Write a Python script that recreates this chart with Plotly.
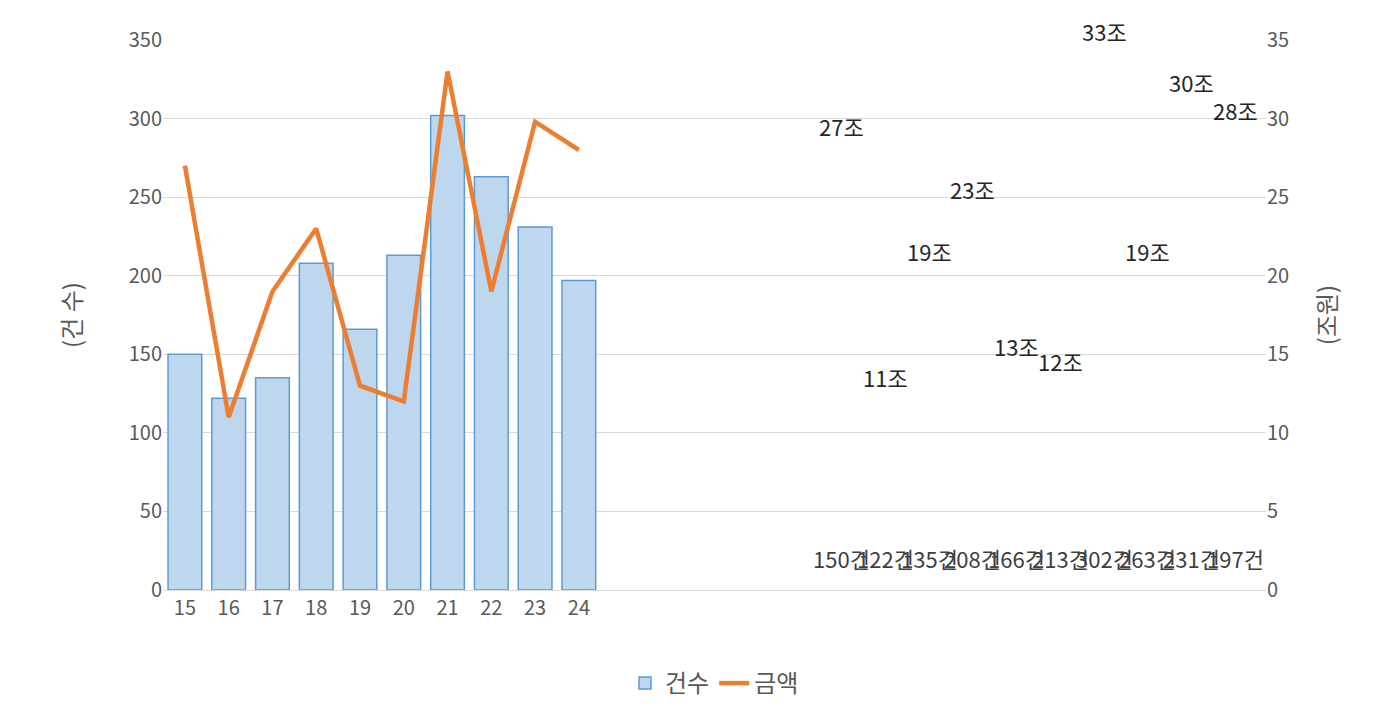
import plotly.graph_objects as go

years = ["15","16","17","18","19","20","21","22","23","24"]
counts = [150,122,135,208,166,213,302,263,231,197]
amounts = [27,11,19,23,13,12,33,19,29.8,28]
amount_labels = ["27조","11조","19조","23조","13조","12조","33조","19조","30조","28조"]
count_labels = [f"{c}건" for c in counts]

F = "Noto Sans CJK KR"
fig = go.Figure()
fig.add_bar(x=years, y=counts, name="건수", marker=dict(color="#BDD7EE", line=dict(color="#5B9BD5", width=1.5)), width=0.77)
fig.add_scatter(x=years, y=amounts, name="금액", yaxis="y2", mode="lines", line=dict(color="#ED7D31", width=4.5))

ann = []
for x, c, t in zip(years, counts, count_labels):
    ann.append(dict(x=x, y=0, xref="x", yref="y", text=t, showarrow=False, yshift=32, font=dict(size=22, color="#404040", family=F)))
for x, a, t in zip(years, amounts, amount_labels):
    ann.append(dict(x=x, y=a, xref="x", yref="y2", text=t, showarrow=False, yshift=40, font=dict(size=22, color="#262626", family=F)))

fig.update_layout(
    width=1400, height=713, paper_bgcolor="white", plot_bgcolor="white",
    margin=dict(l=155, r=142, t=32, b=131),
    font=dict(family=F, size=20, color="#595959"),
    bargap=0.23,
    xaxis=dict(type="category", showgrid=False, linecolor="#D9D9D9", showline=True, ticks="", tickfont=dict(size=20)),
    yaxis=dict(range=[0,350], dtick=50, gridcolor="#D9D9D9", zeroline=False, tickfont=dict(size=20),
               title=dict(text="(건 수)", font=dict(size=24), standoff=40)),
    yaxis2=dict(range=[0,35], dtick=5, overlaying="y", side="right", showgrid=False, zeroline=False, tickfont=dict(size=20),
                title=dict(text="(조원)", font=dict(size=24), standoff=30)),
    legend=dict(orientation="h", x=0.5, xanchor="center", y=-0.17, yanchor="middle", font=dict(size=24, color="#595959")),
    annotations=ann,
)
fig.write_html("out.html")
